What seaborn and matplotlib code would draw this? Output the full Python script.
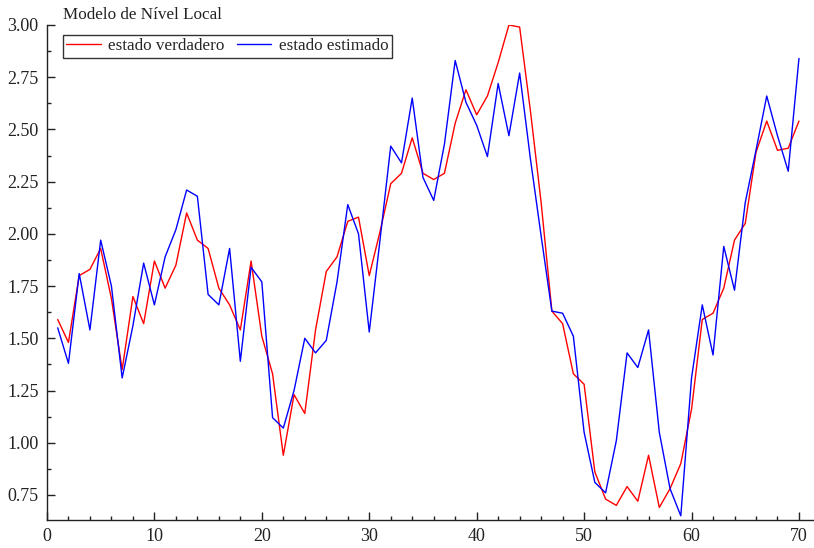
import matplotlib
matplotlib.use('Agg')
import matplotlib.pyplot as plt
from matplotlib.ticker import MultipleLocator
import numpy as np
import pandas as pd
import seaborn as sns

# dados do modelo de nível local
t = np.arange(1, 71)
estado_verdadero = [
    1.59, 1.48, 1.80, 1.83, 1.93, 1.69, 1.35, 1.70, 1.57, 1.87,
    1.74, 1.85, 2.10, 1.97, 1.93, 1.74, 1.66, 1.54, 1.87, 1.51,
    1.33, 0.94, 1.23, 1.14, 1.54, 1.82, 1.89, 2.06, 2.08, 1.80,
    2.01, 2.24, 2.29, 2.46, 2.29, 2.26, 2.29, 2.53, 2.69, 2.57,
    2.66, 2.82, 3.00, 2.99, 2.59, 2.15, 1.63, 1.57, 1.33, 1.28,
    0.86, 0.73, 0.70, 0.79, 0.72, 0.94, 0.69, 0.78, 0.90, 1.16,
    1.59, 1.62, 1.74, 1.97, 2.05, 2.39, 2.54, 2.40, 2.41, 2.54,
]
estado_estimado = [
    1.55, 1.38, 1.81, 1.54, 1.97, 1.75, 1.31, 1.56, 1.86, 1.66,
    1.89, 2.02, 2.21, 2.18, 1.71, 1.66, 1.93, 1.39, 1.84, 1.77,
    1.12, 1.07, 1.25, 1.50, 1.43, 1.49, 1.77, 2.14, 2.00, 1.53,
    1.97, 2.42, 2.34, 2.65, 2.27, 2.16, 2.43, 2.83, 2.63, 2.52,
    2.37, 2.72, 2.47, 2.77, 2.36, 1.99, 1.63, 1.62, 1.51, 1.05,
    0.81, 0.76, 1.01, 1.43, 1.36, 1.54, 1.05, 0.78, 0.65, 1.31,
    1.66, 1.42, 1.94, 1.73, 2.15, 2.40, 2.66, 2.47, 2.30, 2.84,
]
series = ['estado verdadero', 'estado estimado']
cores = ['#ff0000', '#0000ff']

df = pd.DataFrame({
    't': np.concatenate([t, t]),
    'valor': estado_verdadero + estado_estimado,
    'serie': [series[0]] * len(t) + [series[1]] * len(t),
})

sns.set_style('white')
plt.rcParams['font.family'] = ['Liberation Serif', 'DejaVu Serif']

fig = plt.figure(figsize=(8.14, 5.48), dpi=100)
ax = fig.add_axes([0.0577, 0.0511, 0.9423, 0.9033])

sns.lineplot(data=df, x='t', y='valor', hue='serie', hue_order=series,
             palette=cores, linewidth=1.0, ax=ax)

ax.set_xlim(0, 71.4)
ax.set_ylim(0.63, 3.0)
ax.xaxis.set_major_locator(MultipleLocator(10))
ax.xaxis.set_minor_locator(MultipleLocator(2))
ax.yaxis.set_major_locator(MultipleLocator(0.25))
ax.yaxis.set_minor_locator(MultipleLocator(0.125))
ax.yaxis.set_major_formatter(matplotlib.ticker.FormatStrFormatter('%.2f'))
ax.tick_params(which='major', direction='in', length=6, width=1, labelsize=13,
               colors='#222222', pad=6)
ax.tick_params(which='minor', direction='in', length=3, width=1, colors='#222222')
ax.tick_params(axis='both', which='both', bottom=True, left=True)
ax.set_xlabel('')
ax.set_ylabel('')

sns.despine(ax=ax)
for s in ['left', 'bottom']:
    ax.spines[s].set_color('#222222')
    ax.spines[s].set_linewidth(1.0)

leg = ax.legend(loc='upper left', bbox_to_anchor=(0.021, 0.98), ncol=2,
                fontsize=12.3, frameon=True, fancybox=False, handlelength=2.0,
                columnspacing=0.7, handletextpad=0.45, borderpad=0.2,
                borderaxespad=0)
leg.get_frame().set_edgecolor('black')
leg.get_frame().set_linewidth(1.0)

fig.text(0.0774, 0.973, 'Modelo de Nível Local', fontsize=12.3, ha='left',
         va='center', color='#222222')

fig.savefig('out.png', dpi=100)
